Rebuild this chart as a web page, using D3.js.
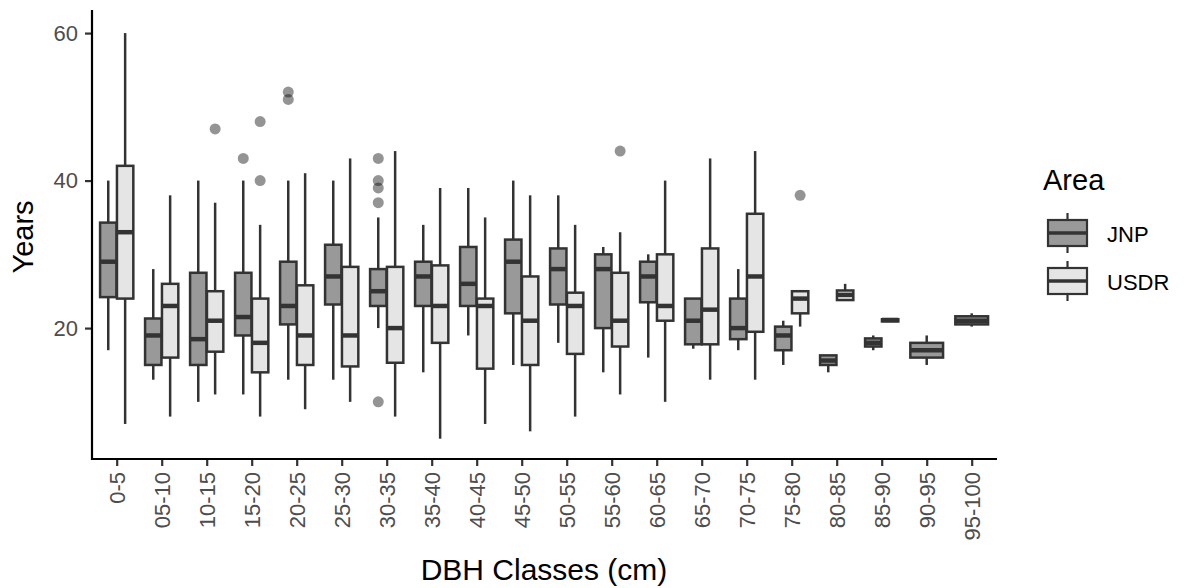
<!DOCTYPE html>
<html><head><meta charset="utf-8">
<script src="https://cdn.jsdelivr.net/npm/d3@7"></script>
<style>body{margin:0;background:#fff}svg{display:block;font-family:"Liberation Sans",Arial,sans-serif}</style>
</head><body><svg id="c" width="1193" height="588"></svg>
<script>
const categories = ["0-5","05-10","10-15","15-20","20-25","25-30","30-35","35-40","40-45","45-50","50-55","55-60","60-65","65-70","70-75","75-80","80-85","85-90","90-95","95-100"];
const groups = ["JNP","USDR"];
const yTicks = [20,40,60];
// JNP: min, q1, median, q3, max
const jnpMin = [17,13,10,11,13,13,20,14,19,15,18,14,16,17.2,17,15,14,17,15,20.2];
const jnpQ1  = [24.2,15,15,19,20.5,23.2,23,23,23,22,23.2,20,23.5,17.8,18.5,17,15,17.5,16,20.5];
const jnpMed = [29,19,18.5,21.5,23,27,25,27,26,29,28,28,27,21,20,19,15.6,18,17,21];
const jnpQ3  = [34.3,21.3,27.5,27.5,29,31.3,28,29,31,32,30.8,30,29,24,24,20.2,16.3,18.6,18,21.6];
const jnpMax = [40,28,40,40,40,40,35,34,39,40,38,31,30,24,28,21,16.3,19,19,22];
// USDR
const usdrMin = [7,8,11,8,9,10,8,5,7,6,8,11,10,13,13,20.2,23.8,20.9,null,null];
const usdrQ1  = [24,16,16.8,14,15,14.8,15.3,18,14.5,15,16.5,17.5,21,17.8,19.5,22,23.8,20.9,null,null];
const usdrMed = [33,23,21,18,19,19,20,23,23,21,23,21,23,22.5,27,24,24.5,21.1,null,null];
const usdrQ3  = [42,26,25,24,25.8,28.3,28.3,28.5,24,27,24.8,27.5,30,30.8,35.5,25,25.1,21.2,null,null];
const usdrMax = [60,38,37,34,41,43,44,39,35,38,34,33,40,43,44,25,26,21.2,null,null];
// outliers
const outCat   = ["15-20","20-25","20-25","30-35","30-35","30-35","30-35","30-35","10-15","15-20","15-20","55-60","75-80"];
const outGroup = ["JNP","JNP","JNP","JNP","JNP","JNP","JNP","JNP","USDR","USDR","USDR","USDR","USDR"];
const outVal   = [43,52,51,43,40,39,37,10,47,48,40,44,38];

const fills = {JNP:"#999999", USDR:"#e5e5e5"};
const lineCol = "#333333";
const FONT = "Liberation Sans, Arial, sans-serif";

const svg = d3.select("#c");
const x = d3.scalePoint().domain(categories).range([116.7, 971.7]);
const y = d3.scaleLinear().domain([2.25, 62.75]).range([459, 12.8]);
const step = x.step();
const dodgeW = step*0.75;

const boxes = [];
categories.forEach((c,i)=>{
  const present = [];
  if (jnpMed[i]!=null) present.push({g:"JNP",min:jnpMin[i],q1:jnpQ1[i],med:jnpMed[i],q3:jnpQ3[i],max:jnpMax[i]});
  if (usdrMed[i]!=null) present.push({g:"USDR",min:usdrMin[i],q1:usdrQ1[i],med:usdrMed[i],q3:usdrQ3[i],max:usdrMax[i]});
  const w = dodgeW/present.length;
  present.forEach((b,k)=>{ b.c=c; b.cx = x(c) - dodgeW/2 + w*(k+0.5); b.w = w*0.97; boxes.push(b); });
});
function centerOf(c,g){ const b = boxes.find(d=>d.c===c && d.g===g); return b.cx; }

const plot = svg.append("g");
const bg = plot.selectAll("g.box").data(boxes).join("g");
bg.append("line").attr("x1",d=>d.cx).attr("x2",d=>d.cx).attr("y1",d=>y(d.max)).attr("y2",d=>y(d.q3)).attr("stroke",lineCol).attr("stroke-width",2.5);
bg.append("line").attr("x1",d=>d.cx).attr("x2",d=>d.cx).attr("y1",d=>y(d.q1)).attr("y2",d=>y(d.min)).attr("stroke",lineCol).attr("stroke-width",2.5);
bg.append("rect").attr("x",d=>d.cx-d.w/2).attr("width",d=>d.w).attr("y",d=>y(d.q3)).attr("height",d=>Math.max(0.5,y(d.q1)-y(d.q3)))
  .attr("fill",d=>fills[d.g]).attr("stroke",lineCol).attr("stroke-width",2.5);
bg.append("line").attr("x1",d=>d.cx-d.w/2).attr("x2",d=>d.cx+d.w/2).attr("y1",d=>y(d.med)).attr("y2",d=>y(d.med)).attr("stroke",lineCol).attr("stroke-width",4.5);

plot.selectAll("circle.out").data(outVal.map((v,i)=>({c:outCat[i],g:outGroup[i],v}))).join("circle")
  .attr("cx",d=>centerOf(d.c,d.g)).attr("cy",d=>y(d.v)).attr("r",5.5).attr("fill","#000").attr("fill-opacity",0.42);

// axes
const xAxis = svg.append("g").attr("transform","translate(0,459)").call(d3.axisBottom(x).tickSize(7).tickPadding(3));
xAxis.select(".domain").remove();
xAxis.append("line").attr("x1",92).attr("x2",997).attr("stroke","#000").attr("stroke-width",2.2);
xAxis.selectAll(".tick line").attr("stroke","#333").attr("stroke-width",2.2);
xAxis.selectAll(".tick text").attr("fill","#4d4d4d").attr("font-size",22).attr("font-family",FONT)
  .attr("transform","rotate(-90)").attr("text-anchor","end").attr("x",-13).attr("y",0).attr("dy","0.35em");

const yAxis = svg.append("g").attr("transform","translate(92,0)").call(d3.axisLeft(y).tickValues(yTicks).tickSize(7).tickPadding(7));
yAxis.select(".domain").remove();
yAxis.append("line").attr("y1",10).attr("y2",460).attr("stroke","#000").attr("stroke-width",2.2);
yAxis.selectAll(".tick line").attr("stroke","#333").attr("stroke-width",2.2);
yAxis.selectAll(".tick text").attr("fill","#4d4d4d").attr("font-size",22).attr("font-family",FONT);

svg.append("text").attr("transform","translate(33,237) rotate(-90)").attr("text-anchor","middle").attr("font-size",29).attr("font-family",FONT).attr("fill","#000").text("Years");
svg.append("text").attr("x",544).attr("y",580).attr("text-anchor","middle").attr("font-size",30).attr("font-family",FONT).attr("fill","#000").text("DBH Classes (cm)");

// legend
const lg = svg.append("g");
lg.append("text").attr("x",1043).attr("y",190).attr("font-size",29).attr("font-family",FONT).attr("fill","#000").text("Area");
groups.forEach((g,i)=>{
  const cy = 233 + i*48;
  const cx = 1067.5;
  lg.append("line").attr("x1",cx).attr("x2",cx).attr("y1",cy-20).attr("y2",cy+20).attr("stroke",lineCol).attr("stroke-width",2.2);
  lg.append("rect").attr("x",cx-19.5).attr("y",cy-13).attr("width",39).attr("height",26).attr("fill",fills[g]).attr("stroke",lineCol).attr("stroke-width",2.2);
  lg.append("line").attr("x1",cx-19.5).attr("x2",cx+19.5).attr("y1",cy).attr("y2",cy).attr("stroke",lineCol).attr("stroke-width",3.5);
  lg.append("text").attr("x",1107).attr("y",cy+9).attr("font-size",22).attr("font-family",FONT).attr("fill","#000").text(g);
});
</script></body></html>
